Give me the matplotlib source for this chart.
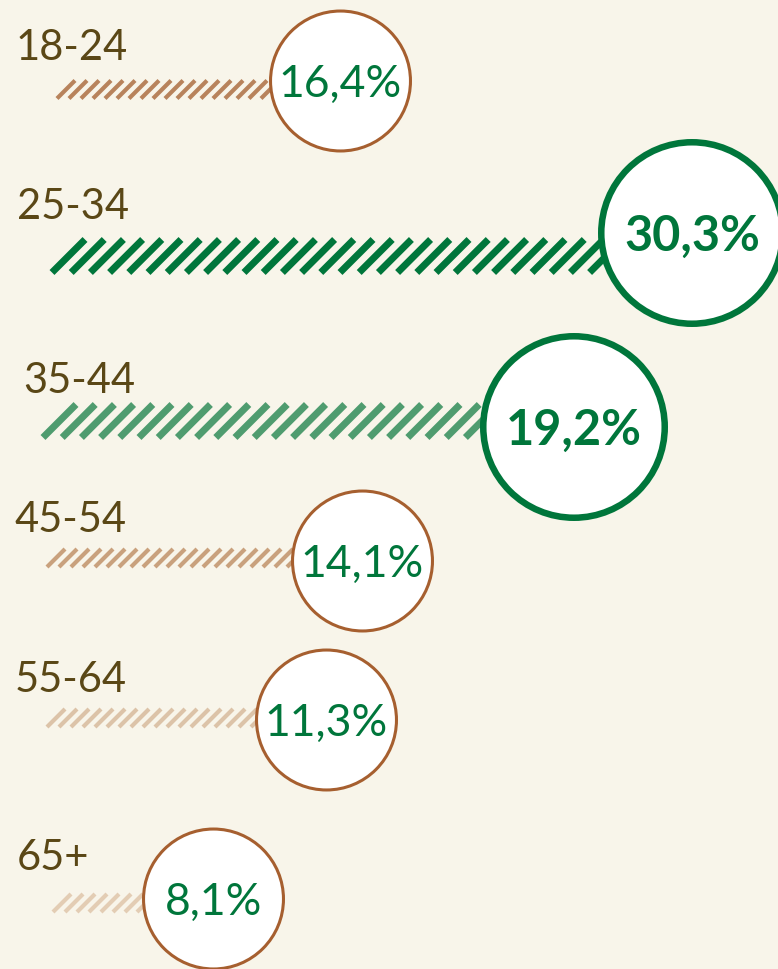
import matplotlib.pyplot as plt
from matplotlib.patches import Circle
from matplotlib.collections import LineCollection

# data
ages = ['18-24', '25-34', '35-44', '45-54', '55-64', '65+']
shares = [16.4, 30.3, 19.2, 14.1, 11.3, 8.1]
# drawn bar lengths (px in the original), bars are not to scale
bar_len = [212, 546, 437, 244, 208, 89]

# layout (px)
bar_x0 = [57, 52, 43, 47, 47, 53]
bar_y = [89.5, 256, 421, 558, 718, 903]
circ_y = [81, 233, 427, 561, 720, 899]
label_x = [16, 17, 23, 14, 15, 17]
label_base = [60, 219, 393, 532, 692, 870]

stripe_cols = ['#b8835c', '#00763b', '#4f9c6f', '#c9a17d', '#dcc3a8', '#e3cdb4']
bg = '#f8f5ea'
green = '#00763b'
brown = '#a65f2f'
label_col = '#5a4716'

plt.rcParams['font.family'] = ['Lato', 'DejaVu Sans']

fig = plt.figure(figsize=(7.78, 9.69), dpi=100)
fig.patch.set_facecolor(bg)
ax = fig.add_axes([0, 0, 1, 1])
ax.set_xlim(0, 778)
ax.set_ylim(969, 0)
ax.set_facecolor(bg)
ax.axis('off')

top2 = sorted(shares, reverse=True)[:2]

for i, age in enumerate(ages):
    big = shares[i] in top2
    h = 33 if big else 18
    pitch = 19.2 if big else 12
    lw = 5.0 if big else 3.0
    x0 = bar_x0[i]
    x1 = x0 + bar_len[i]
    yb = bar_y[i] + h / 2
    yt = bar_y[i] - h / 2
    segs = []
    x = x0
    while x < x1:
        segs.append([(x, yb), (x + h, yt)])
        x += pitch
    lc = LineCollection(segs, colors=stripe_cols[i], linewidths=lw, capstyle='butt', zorder=1)
    ax.add_collection(lc)

    # circle sits right at the bar end
    r_out = 94 if big else 71.5
    ring = 4.7 if big else 2.2
    r = r_out - ring / 0.72 / 2
    cx = x1 + r_out
    ax.add_patch(Circle((cx, circ_y[i]), r, facecolor='white',
                        edgecolor=green if big else brown, linewidth=ring, zorder=3))

    txt = f"{shares[i]:.1f}".replace('.', ',') + '%'
    fs = 35 if big else 32
    ax.text(cx, circ_y[i] + fs / 2, txt, ha='center', va='baseline',
            fontsize=fs, color=green, fontweight='bold' if big else 'normal', zorder=4)

    ax.text(label_x[i], label_base[i], age, ha='left', va='baseline',
            fontsize=30, color=label_col, zorder=2)

fig.savefig('out.png', dpi=100, facecolor=bg)
